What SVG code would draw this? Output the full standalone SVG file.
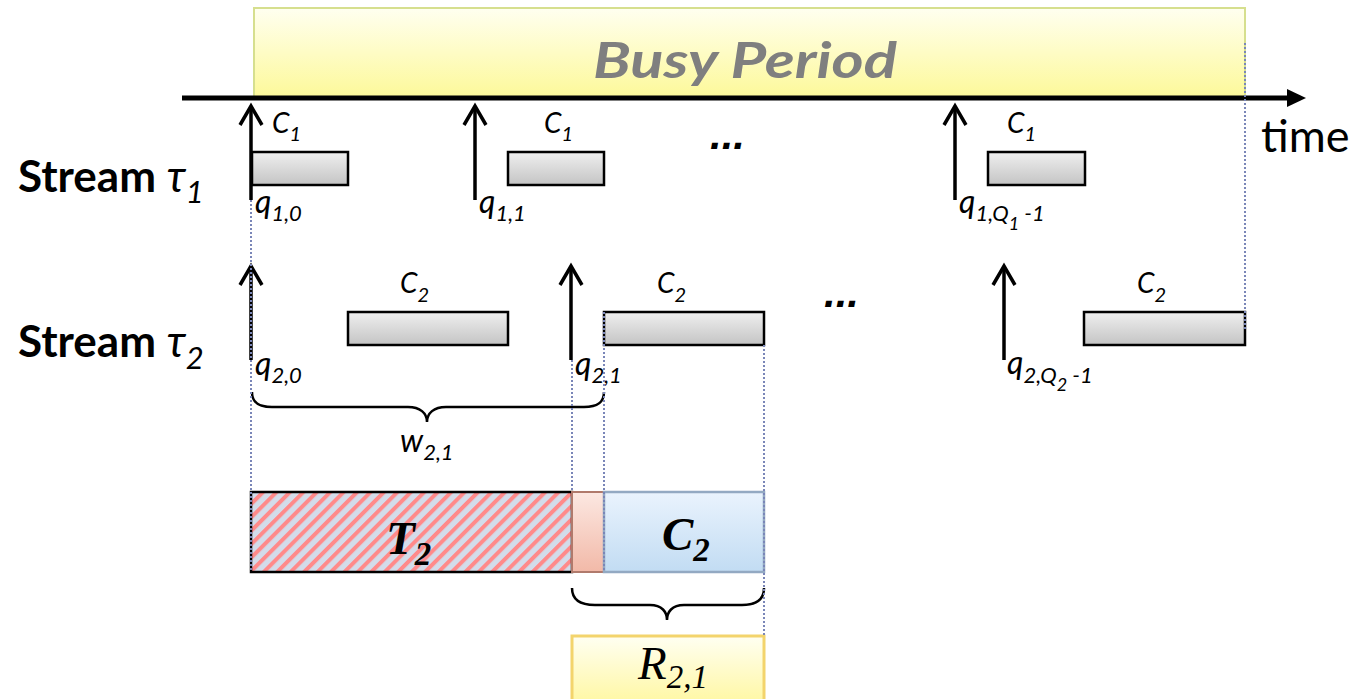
<svg xmlns="http://www.w3.org/2000/svg" width="1353" height="699" viewBox="0 0 1353 699">
  <defs>
    <linearGradient id="gBusy" x1="0" y1="0" x2="0" y2="1">
      <stop offset="0" stop-color="#fffff0"/>
      <stop offset="1" stop-color="#fdf99a"/>
    </linearGradient>
    <linearGradient id="gResp" x1="0" y1="0" x2="0" y2="1">
      <stop offset="0" stop-color="#fffff2"/>
      <stop offset="1" stop-color="#fff7a0"/>
    </linearGradient>
    <linearGradient id="gJob" x1="0" y1="0" x2="0" y2="1">
      <stop offset="0" stop-color="#efefef"/>
      <stop offset="1" stop-color="#c4c4c4"/>
    </linearGradient>
    <linearGradient id="gExec" x1="0" y1="0" x2="0" y2="1">
      <stop offset="0" stop-color="#eaf3fd"/>
      <stop offset="1" stop-color="#c2dcf3"/>
    </linearGradient>
    <linearGradient id="gBlock" x1="0" y1="0" x2="0" y2="1">
      <stop offset="0" stop-color="#fce8e2"/>
      <stop offset="1" stop-color="#f2b9a8"/>
    </linearGradient>
    <pattern id="hatch" width="9.5" height="9.5" patternUnits="userSpaceOnUse" patternTransform="rotate(45)">
      <rect width="9.5" height="9.5" fill="#d3dcea"/>
      <rect width="4" height="9.5" fill="#ff8a8a"/>
    </pattern>
    <marker id="chev" viewBox="-22 -13 26 26" refX="0" refY="0" markerWidth="26" markerHeight="26" markerUnits="userSpaceOnUse" orient="auto">
      <path d="M-19,-11 L0,0 L-19,11" fill="none" stroke="#000" stroke-width="3.5" stroke-linejoin="miter"/>
    </marker>
    <style>
      .sans{font-family:Lato,"Liberation Sans",sans-serif}
      .serif{font-family:"Liberation Serif","Times New Roman",serif}
      .stream{font-size:44px;font-weight:bold}
      .tau{font-style:italic;font-weight:normal}
      .c{font-size:28px;font-style:italic}
      .cs{font-size:20px}
      .q{font-size:32px;font-style:italic}
      .qs{font-size:22px}
      .qss{font-size:18px}
      .dots{font-family:"Liberation Sans",Arial,sans-serif;font-size:42px;font-weight:bold;font-style:italic}
      .job{fill:url(#gJob);stroke:#000;stroke-width:2.5}
      .arrow{stroke:#000;stroke-width:3.5;fill:none;marker-end:url(#chev)}
      .guide{stroke:#7a86b8;stroke-width:2;stroke-dasharray:2 2;fill:none}
      .brace{stroke:#000;stroke-width:2.5;fill:none}
      .big{font-size:47px;font-weight:bold;font-style:italic}
      .bigsub{font-size:33px}
    </style>
  </defs>

  <rect width="1353" height="699" fill="#fff"/>

  <!-- busy period band above the time axis -->
  <g id="busy-period">
    <rect x="254" y="8" width="991" height="89" fill="url(#gBusy)" stroke="#d6df8e" stroke-width="2"/>
    <text x="593" y="78" class="sans" font-size="49" font-weight="bold" font-style="italic" fill="#7f7f7f" textLength="304" lengthAdjust="spacingAndGlyphs">Busy Period</text>
  </g>

  <!-- time axis -->
  <g id="time-axis">
    <line x1="182" y1="98" x2="1292" y2="98" stroke="#000" stroke-width="5"/>
    <polygon points="1287,89 1306,98 1287,107" fill="#000"/>
    <text x="1261" y="152" class="sans" font-size="45">time</text>
  </g>

  <!-- stream labels -->
  <g id="stream1-label">
    <text x="18" y="192" class="sans stream">Stream <tspan class="tau">τ</tspan><tspan class="tau" font-size="31" dy="11">1</tspan></text>
  </g>
  <g id="stream2-label">
    <text x="18" y="357" class="sans stream">Stream <tspan class="tau">τ</tspan><tspan class="tau" font-size="31" dy="12">2</tspan></text>
  </g>

  <!-- stream 1 jobs -->
  <g id="stream1-jobs">
    <rect class="job" x="252" y="152" width="96" height="33"/>
    <rect class="job" x="508" y="152" width="96" height="33"/>
    <rect class="job" x="988" y="152" width="97" height="33"/>
    <text x="272" y="133" class="sans c">C<tspan class="cs" dy="8">1</tspan></text>
    <text x="544" y="133" class="sans c">C<tspan class="cs" dy="8">1</tspan></text>
    <text x="1007" y="133" class="sans c">C<tspan class="cs" dy="8">1</tspan></text>
    <text x="710" y="149" class="dots">...</text>
  </g>

  <!-- stream 2 jobs -->
  <g id="stream2-jobs">
    <rect class="job" x="348" y="312" width="160" height="33"/>
    <rect class="job" x="604" y="312" width="160" height="33"/>
    <rect class="job" x="1084" y="312" width="161" height="33"/>
    <text x="400" y="293" class="sans c">C<tspan class="cs" dy="9">2</tspan></text>
    <text x="657" y="293" class="sans c">C<tspan class="cs" dy="9">2</tspan></text>
    <text x="1137" y="293" class="sans c">C<tspan class="cs" dy="9">2</tspan></text>
    <text x="824" y="307" class="dots">...</text>
  </g>

  <!-- release arrows -->
  <g id="connectors">
    <line class="arrow" x1="251" y1="200" x2="251" y2="106"/>
    <line class="arrow" x1="475" y1="200" x2="475" y2="106"/>
    <line class="arrow" x1="955" y1="200" x2="955" y2="106"/>
    <line class="arrow" x1="251" y1="360" x2="251" y2="266"/>
    <line class="arrow" x1="571" y1="360" x2="571" y2="266"/>
    <line class="arrow" x1="1004" y1="360" x2="1004" y2="266"/>
  </g>

  <!-- release labels -->
  <g id="release-labels">
    <text x="255" y="213" class="sans q">q<tspan class="qs" dy="8">1,0</tspan></text>
    <text x="479" y="213" class="sans q">q<tspan class="qs" dy="8">1,1</tspan></text>
    <text x="959" y="213" class="sans q">q<tspan class="qs" dy="8">1,Q</tspan><tspan class="qss" dy="9">1</tspan><tspan class="qs" dy="-9"> -1</tspan></text>
    <text x="255" y="375" class="sans q">q<tspan class="qs" dy="8">2,0</tspan></text>
    <text x="575" y="375" class="sans q">q<tspan class="qs" dy="8">2,1</tspan></text>
    <text x="1007" y="374" class="sans q">q<tspan class="qs" dy="9">2,Q</tspan><tspan class="qss" dy="8">2</tspan><tspan class="qs" dy="-8"> -1</tspan></text>
  </g>

  <!-- window brace -->
  <g id="window">
    <path class="brace" d="M252,392 C252,403 259,407 272,407 L408,407 C420,407 427,413 427,422 C427,413 434,407 446,407 L584,407 C597,407 604,403 604,392"/>
    <text x="400" y="452" class="sans q">w<tspan class="qs" dy="8">2,1</tspan></text>
  </g>

  <!-- timeline breakdown -->
  <g id="period-T2">
    <rect x="251" y="492" width="321" height="80" fill="url(#hatch)" stroke="#000" stroke-width="2.5"/>
    <text x="386" y="554" class="serif big">T<tspan class="bigsub" dy="11">2</tspan></text>
  </g>
  <g id="blocking">
    <rect x="572" y="492" width="32" height="80" fill="url(#gBlock)" stroke="#b07a6c" stroke-width="2"/>
  </g>
  <g id="exec-C2">
    <rect x="604" y="492" width="160" height="80" fill="url(#gExec)" stroke="#93a9c2" stroke-width="2.5"/>
    <text x="662" y="550" class="serif big">C<tspan class="bigsub" dy="11">2</tspan></text>
  </g>

  <!-- response brace -->
  <g id="response">
    <path class="brace" d="M572,588 C572,600 580,605 595,605 L650,605 C662,605 667,612 667,620 C667,612 672,605 684,605 L742,605 C756,605 764,600 764,588"/>
    <rect x="572" y="636" width="192" height="70" fill="url(#gResp)" stroke="#f3d46c" stroke-width="3"/>
    <text x="638" y="679" class="serif" font-size="47" font-style="italic">R<tspan font-size="33" dy="9">2,1</tspan></text>
  </g>

  <!-- dotted guide lines -->
  <g id="guides">
    <line class="guide" x1="251" y1="200" x2="251" y2="572"/>
    <line class="guide" x1="1245" y1="43" x2="1245" y2="330"/>
    <line class="guide" x1="572" y1="360" x2="572" y2="492"/>
    <line class="guide" x1="604" y1="312" x2="604" y2="572"/>
    <line class="guide" x1="764" y1="345" x2="764" y2="636"/>
  </g>
</svg>
